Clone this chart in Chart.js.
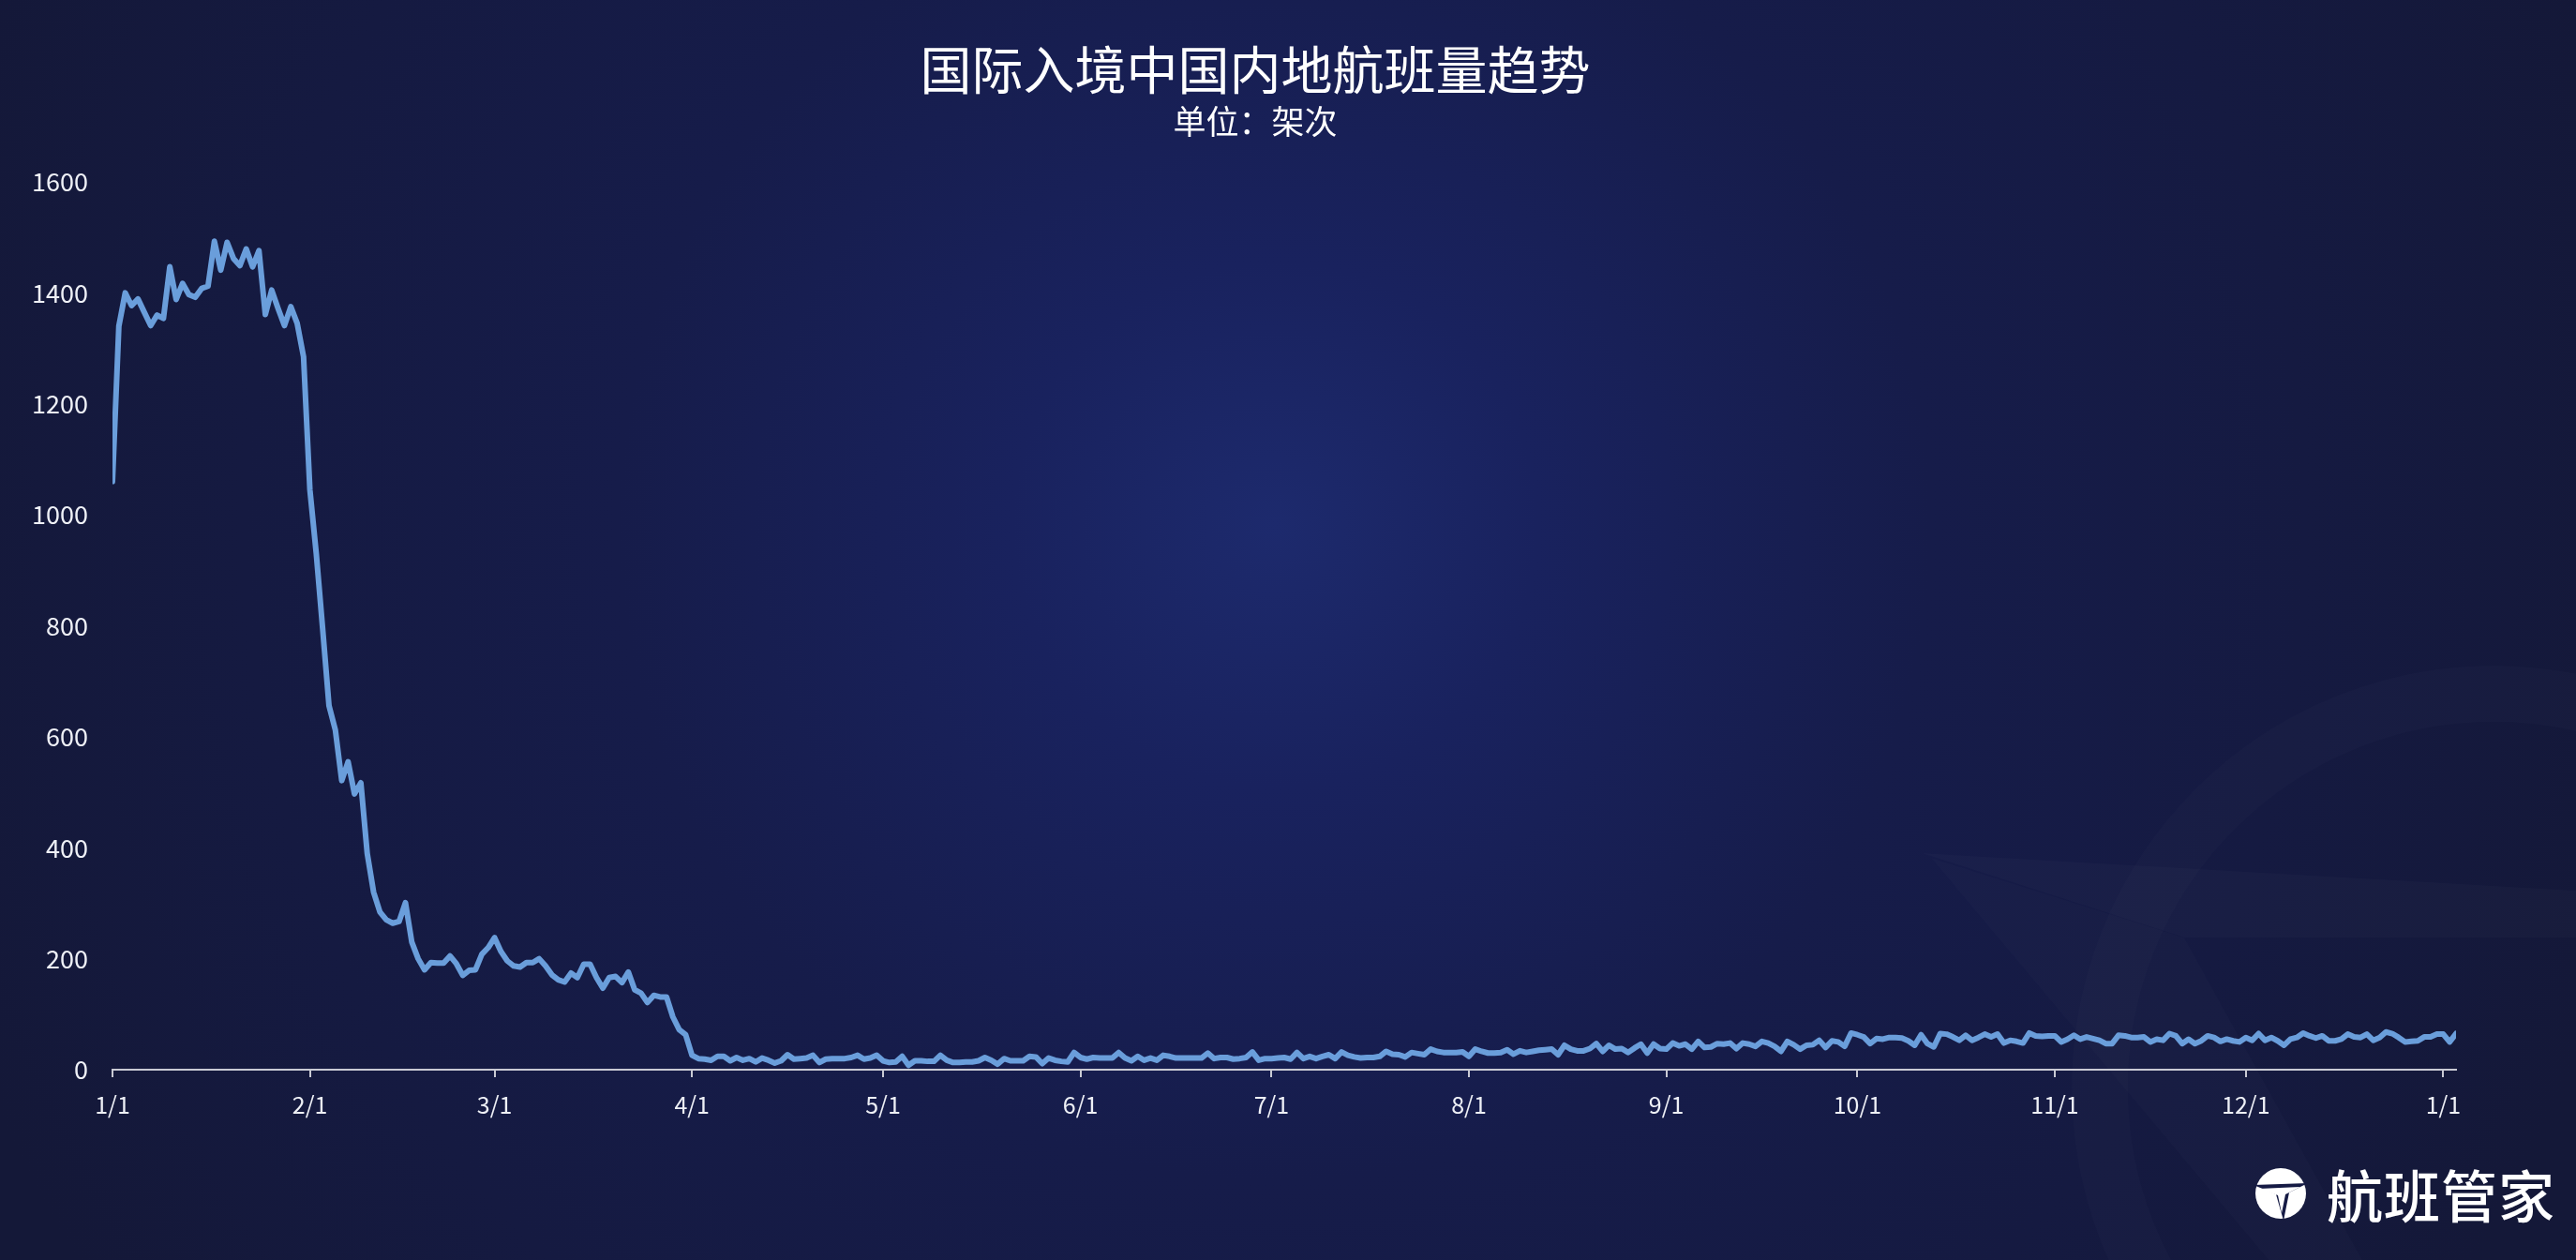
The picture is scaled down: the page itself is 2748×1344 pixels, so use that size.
<!DOCTYPE html>
<html>
<head>
<meta charset="utf-8">
<script src="https://cdn.jsdelivr.net/npm/chart.js@4/dist/chart.umd.min.js"></script>
<style>
html, body { margin: 0; padding: 0; }
body {
    width: 2748px; height: 1344px; overflow: hidden; position: relative;
    background: radial-gradient(circle at 1360px 560px, #1d2a6d 0px, #19225e 280px, #161c4a 700px, #141838 1500px);
    font-family: "Noto Sans CJK SC", "Noto Sans", sans-serif;
}
#wm { position: absolute; left: 0; top: 0; }
#wrap { position: absolute; left: 0; top: 0; width: 2748px; height: 1344px; }
.title { position: absolute; left: 0; width: 2678px; text-align: center; color: #ffffff; white-space: nowrap; }
#t1 { top: 42px; font-size: 55px; line-height: 58px; }
#t2 { top: 109px; font-size: 35px; line-height: 38px; }
#logo { position: absolute; left: 2402px; top: 1240px; height: 66px; display: flex; align-items: center; color: #ffffff; }
#logo span { font-size: 60px; line-height: 66px; font-weight: 500; margin-left: 18px; letter-spacing: 1px; }
</style>
</head>
<body>
<svg id="wm" width="2748" height="1344">
    <circle cx="2660" cy="1160" r="420" fill="none" stroke="rgba(255,255,255,0.016)" stroke-width="60"/>
    <polygon points="2050,910 2748,950 2748,1000 2330,1000" fill="rgba(255,255,255,0.018)"/>
    <polygon points="2060,915 2330,1000 2520,1344 2420,1344" fill="rgba(255,255,255,0.014)"/>
</svg>
<div id="wrap"><canvas id="chart"></canvas></div>
<div class="title" id="t1">国际入境中国内地航班量趋势</div>
<div class="title" id="t2">单位：架次</div>
<div id="logo">
    <svg width="62" height="62" viewBox="0 0 62 62">
        <circle cx="31" cy="31" r="27" fill="#ffffff"/>
        <path d="M2 22 L60 20 L40 30 L34 60 L26 32 Z" fill="#151a44"/>
        <path d="M8 26 L52 24 L36 32 L32 52 L28 33 Z" fill="#ffffff"/>
    </svg>
    <span>航班管家</span>
</div>
<script>
// daily flights, 2020-01-01 .. 2021-01-03
const jan = [1060, 1340, 1400, 1377, 1389, 1365, 1341, 1360, 1354, 1447, 1388, 1417, 1397, 1392, 1408, 1412, 1493, 1441, 1491, 1462, 1449, 1479, 1447, 1476, 1361, 1405, 1372, 1341, 1375, 1345, 1285];
const feb = [1045, 930, 795, 656, 612, 521, 555, 497, 517, 390, 320, 284, 270, 264, 267, 301, 230, 200, 180, 193, 192, 192, 205, 191, 170, 179, 180, 208, 220];
const mar = [238, 213, 196, 187, 185, 193, 193, 200, 187, 171, 162, 158, 174, 166, 190, 190, 166, 147, 166, 168, 157, 176, 144, 138, 121, 134, 131, 131, 95, 72, 63];
const apr = [26, 20, 19, 17, 24, 24, 16, 22, 17, 20, 14, 21, 17, 12, 16, 27, 19, 20, 21, 26, 13, 19, 20, 20, 20, 22, 26, 19, 21, 26];
const may = [16, 13, 14, 24, 8, 16, 16, 15, 15, 26, 17, 13, 13, 14, 14, 16, 22, 17, 10, 20, 16, 16, 16, 24, 23, 11, 21, 17, 15, 14, 31];
const jun = [22, 19, 22, 21, 21, 21, 31, 21, 16, 24, 17, 21, 17, 26, 24, 21, 21, 21, 21, 21, 30, 20, 22, 22, 19, 20, 22, 32, 17, 20];
const jul = [20, 21, 22, 19, 31, 20, 24, 20, 24, 27, 20, 32, 26, 23, 21, 22, 22, 24, 33, 28, 27, 23, 31, 29, 27, 37, 33, 31, 31, 31, 32];
const aug = [24, 37, 33, 30, 30, 31, 36, 28, 34, 31, 33, 35, 36, 37, 27, 44, 37, 34, 34, 38, 47, 33, 44, 37, 38, 31, 39, 46, 30, 46, 38];
const sep = [37, 48, 43, 46, 37, 51, 40, 41, 47, 46, 48, 38, 48, 46, 42, 51, 48, 42, 33, 51, 45, 37, 44, 45, 53, 40, 52, 50, 42, 66];
const oct = [63, 59, 47, 56, 55, 58, 58, 57, 52, 44, 63, 47, 41, 65, 64, 59, 53, 62, 53, 58, 64, 59, 64, 48, 53, 51, 48, 66, 61, 60, 61];
const nov = [61, 50, 55, 62, 55, 59, 56, 53, 47, 47, 62, 61, 58, 58, 59, 50, 55, 53, 65, 61, 47, 55, 47, 52, 61, 58, 51, 55, 52, 50];
const dec = [58, 53, 65, 53, 58, 52, 44, 55, 58, 66, 61, 57, 61, 52, 52, 55, 64, 59, 58, 64, 53, 58, 68, 65, 58, 50, 51, 52, 59, 59, 64];
const jan21 = [64, 50, 65];

const monthLabels = ["1/1", "2/1", "3/1", "4/1", "5/1", "6/1", "7/1", "8/1", "9/1", "10/1", "11/1", "12/1", "1/1"];
const yTicks = [0, 200, 400, 600, 800, 1000, 1200, 1400, 1600];

const months = [jan, feb, mar, apr, may, jun, jul, aug, sep, oct, nov, dec, jan21];
const values = [].concat(...months);
const monthStarts = [];
let n = 0;
months.forEach(m => { monthStarts.push(n); n += m.length; });

const fontFamily = "'Noto Sans CJK SC', 'Noto Sans', sans-serif";
const axisColor = "#c9cad4";

new Chart(document.getElementById("chart").getContext("2d"), {
    type: "line",
    data: {
        datasets: [{
            data: values.map((v, i) => ({ x: i, y: v })),
            borderColor: "#6a9edb",
            borderWidth: 6,
            pointRadius: 0,
            tension: 0,
            borderJoinStyle: "round",
            borderCapStyle: "round"
        }]
    },
    options: {
        responsive: true,
        maintainAspectRatio: false,
        animation: false,
        layout: { padding: { top: 194, right: 128, bottom: 133, left: 0 } },
        plugins: { legend: { display: false }, tooltip: { enabled: false } },
        scales: {
            x: {
                type: "linear",
                min: 0,
                max: values.length - 1,
                afterBuildTicks: s => { s.ticks = monthStarts.map(v => ({ value: v })); },
                afterFit: s => { s.height = 70; },
                ticks: {
                    autoSkip: false,
                    maxRotation: 0,
                    padding: 14,
                    color: "#eef0f6",
                    font: { family: fontFamily, size: 25 },
                    callback: (v, i) => monthLabels[i]
                },
                grid: { display: true, drawOnChartArea: false, drawTicks: true, tickLength: 8, color: axisColor, lineWidth: 2 },
                border: { display: true, color: axisColor, width: 2 }
            },
            y: {
                min: 0,
                max: 1600,
                afterBuildTicks: s => { s.ticks = yTicks.map(v => ({ value: v })); },
                afterFit: s => { s.width = 120; },
                ticks: {
                    padding: 18,
                    color: "#eef0f6",
                    font: { family: fontFamily, size: 27 },
                    callback: v => String(v)
                },
                grid: { display: false },
                border: { display: false }
            }
        }
    }
});
</script>
</body>
</html>
